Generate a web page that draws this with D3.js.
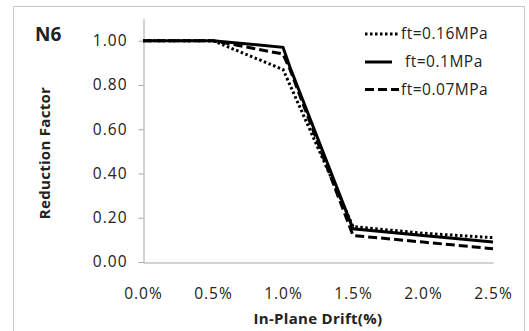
<!DOCTYPE html>
<html>
<head>
<meta charset="utf-8">
<script src="https://cdn.jsdelivr.net/npm/d3@7"></script>
<style>
  html, body { margin: 0; padding: 0; background: #fff; }
  svg { display: block; }
  text { font-family: "Open Sans", sans-serif; fill: #222; }
</style>
</head>
<body>
<svg id="chart" width="529" height="331"></svg>
<script>
// ---- data ----
const drift = [0, 0.5, 1.0, 1.05, 1.5, 2.0, 2.5];          // In-plane drift (%)
const ft016 = [1.00, 1.00, 0.87, 0.80, 0.16, 0.13, 0.11];  // ft=0.16MPa
const ft010 = [1.00, 1.00, 0.97, 0.88, 0.15, 0.12, 0.09];  // ft=0.1MPa
const ft007 = [1.00, 1.00, 0.94, 0.87, 0.12, 0.09, 0.06];  // ft=0.07MPa
const seriesNames = ["ft=0.16MPa", "ft=0.1MPa", "ft=0.07MPa"];
const yTicks = [0, 0.2, 0.4, 0.6, 0.8, 1.0];
const xTicks = [0, 0.5, 1.0, 1.5, 2.0, 2.5];

const svg = d3.select("#chart");

// outer border
svg.append("rect").attr("x", 13.5).attr("y", 6.5).attr("width", 511).attr("height", 340)
  .attr("fill", "none").attr("stroke", "#c8c8c8").attr("stroke-width", 1);

const x = d3.scaleLinear().domain([0, 2.5]).range([143, 493]);
const y = d3.scaleLinear().domain([0, 1.1]).range([262, 18.6]);

// y axis
const yAxis = d3.axisLeft(y).tickValues(yTicks).tickFormat(d3.format(".2f")).tickSize(5).tickSizeOuter(0);
const gy = svg.append("g").attr("transform", "translate(143.5,0)").call(yAxis);
gy.select(".domain").attr("stroke", "#a6a6a6");
gy.selectAll(".tick line").attr("stroke", "#a6a6a6");
gy.selectAll(".tick text").attr("x", -16).attr("font-size", 15.5).attr("letter-spacing", 1)
  .style("font-family", "'Open Sans', sans-serif").attr("fill", "#222");

// x axis
const xAxis = d3.axisBottom(x).tickValues(xTicks).tickFormat(d => d.toFixed(1) + "%").tickSize(0).tickSizeOuter(0);
const gx = svg.append("g").attr("transform", "translate(0,262.5)").call(xAxis);
gx.select(".domain").attr("stroke", "#a6a6a6");
gx.selectAll(".tick text").attr("y", 25).attr("font-size", 15.5).attr("letter-spacing", 1)
  .style("font-family", "'Open Sans', sans-serif").attr("fill", "#222");

// titles
svg.append("text").attr("x", 318).attr("y", 324).attr("text-anchor", "middle")
  .attr("font-size", 15).attr("font-weight", "bold").attr("letter-spacing", 0.3).text("In-Plane Drift(%)");
svg.append("text").attr("transform", "translate(50,153) rotate(-90)").attr("text-anchor", "middle")
  .attr("font-size", 15).attr("font-weight", "bold").attr("letter-spacing", 0.3).text("Reduction Factor");
svg.append("text").attr("x", 35).attr("y", 41).attr("font-size", 19).attr("font-weight", "bold").text("N6");

// lines
const styles = [
  { data: ft016, dash: "2.5,2.5" },
  { data: ft010, dash: null },
  { data: ft007, dash: "9,4" }
];
const line = d3.line().x((d, i) => x(drift[i])).y(d => y(d));
styles.forEach(s => {
  svg.append("path").datum(s.data).attr("d", line)
    .attr("fill", "none").attr("stroke", "#000").attr("stroke-width", 3)
    .attr("stroke-dasharray", s.dash);
});

// legend
const legY = [34, 62, 89.5];
const legX1 = [365, 365, 365];
const legX2 = [399, 392, 399];
const legTX = [401, 405, 401];
seriesNames.forEach((name, i) => {
  svg.append("line").attr("x1", legX1[i]).attr("x2", legX2[i]).attr("y1", legY[i]).attr("y2", legY[i])
    .attr("stroke", "#000").attr("stroke-width", 3).attr("stroke-dasharray", styles[i].dash);
  svg.append("text").attr("x", legTX[i]).attr("y", legY[i]).attr("dy", "0.35em")
    .attr("font-size", 15.5).attr("letter-spacing", 0.5).text(name);
});
</script>
</body>
</html>
